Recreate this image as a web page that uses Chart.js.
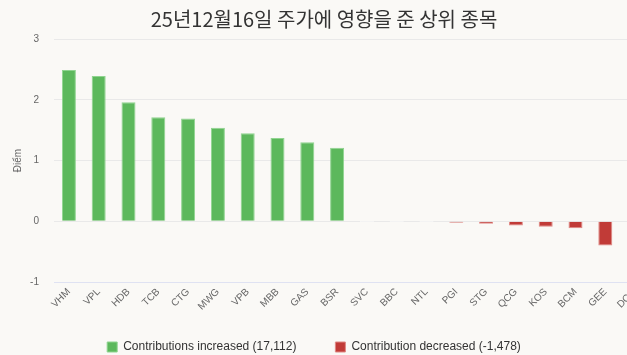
<!DOCTYPE html>
<html>
<head>
<meta charset="utf-8">
<script src="https://cdn.jsdelivr.net/npm/chart.js@4/dist/chart.umd.min.js"></script>
<style>
  html, body { margin: 0; padding: 0; overflow: hidden; background: #faf9f6; }
  #wrap { position: relative; width: 650px; height: 355px; }
</style>
</head>
<body>
<div id="wrap"><canvas id="c" width="650" height="355"></canvas></div>
<script>
const titleText = '25년12월16일 주가에 영향을 준 상위 종목';
const yAxisTitle = 'Điểm';
const categories = ['VHM','VPL','HDB','TCB','CTG','MWG','VPB','MBB','GAS','BSR','SVC','BBC','NTL','PGI','STG','QCG','KOS','BCM','GEE','DCM'];
const contributions = [2.49, 2.39, 1.96, 1.71, 1.69, 1.54, 1.45, 1.37, 1.30, 1.21, 0, 0, 0, -0.025, -0.04, -0.07, -0.09, -0.115, -0.40, -0.74];
const seriesNames = ['Contributions increased (17,112)', 'Contribution decreased (-1,478)'];
const yTicks = [-1, 0, 1, 2, 3];

const GREEN = '#5cb85c', GREEN_BORDER = '#8fd48f';
const RED = '#c13b37', RED_BORDER = '#e08985';

const increased = contributions.map(v => v >= 0 ? v : null);
const decreased = contributions.map(v => v < 0 ? v : null);

const shiftPlugin = {
  id: 'shiftBoxes',
  afterLayout(chart) {
    const t = chart.titleBlock; if (t) { t.left -= 5; t.right -= 5; }
    const l = chart.legend; if (l) { l.left -= 15; l.right -= 15; }
  }
};

new Chart(document.getElementById('c'), {
  type: 'bar',
  data: {
    labels: categories,
    datasets: [
      {
        label: seriesNames[0],
        data: increased,
        backgroundColor: c => (c.raw === 0 ? '#ffffff' : GREEN),
        borderColor: c => (c.raw === 0 ? '#ffffff' : GREEN_BORDER),
        borderWidth: 1,
        minBarLength: 1,
        grouped: false,
        barPercentage: 0.47,
        categoryPercentage: 1
      },
      {
        label: seriesNames[1],
        data: decreased,
        backgroundColor: RED,
        borderColor: RED_BORDER,
        borderWidth: 1,
        grouped: false,
        barPercentage: 0.47,
        categoryPercentage: 1
      }
    ]
  },
  options: {
    responsive: false,
    animation: false,
    devicePixelRatio: 1,
    layout: { padding: { left: 8, right: 0, top: 0, bottom: 0 } },
    font: { family: '"Liberation Sans", Arial, sans-serif' },
    plugins: {
      title: {
        display: true,
        text: titleText,
        color: '#333',
        font: { family: '"Noto Sans CJK KR", "Noto Sans", sans-serif', size: 20, weight: 'normal' },
        padding: { top: 7, bottom: 8 }
      },
      legend: {
        position: 'bottom',
        maxHeight: 53,
        labels: {
          boxWidth: 10,
          boxHeight: 10,
          padding: 39,
          color: '#333',
          font: { family: '"Liberation Sans", Arial, sans-serif', size: 12 }
        }
      },
      tooltip: { enabled: false }
    },
    scales: {
      x: {
        grid: { display: false, drawTicks: false },
        border: { display: true, color: '#dfe2f2', width: 1 },
        ticks: {
          autoSkip: false,
          maxRotation: 45,
          minRotation: 45,
          padding: 4,
          color: '#666',
          font: { family: '"Liberation Sans", Arial, sans-serif', size: 10 }
        },
        afterFit(scale) {
          scale.height = 20;
          scale.paddingLeft = 0;
          scale.paddingRight = 0;
          scale._computeLabelArea = () => undefined;
        }
      },
      y: {
        min: yTicks[0],
        max: yTicks[yTicks.length - 1],
        afterBuildTicks(scale) { scale.ticks = yTicks.map(v => ({ value: v })); },
        afterFit(scale) { scale.width = 46; },
        grid: { color: '#e9e9e9', drawTicks: false },
        border: { display: false },
        ticks: {
          padding: 15,
          color: '#666',
          font: { family: '"Liberation Sans", Arial, sans-serif', size: 10 }
        },
        title: {
          display: true,
          text: yAxisTitle,
          color: '#666',
          font: { family: '"Liberation Sans", Arial, sans-serif', size: 10 },
          padding: { top: 4, bottom: 6 }
        }
      }
    }
  },
  plugins: [shiftPlugin]
});
</script>
</body>
</html>
